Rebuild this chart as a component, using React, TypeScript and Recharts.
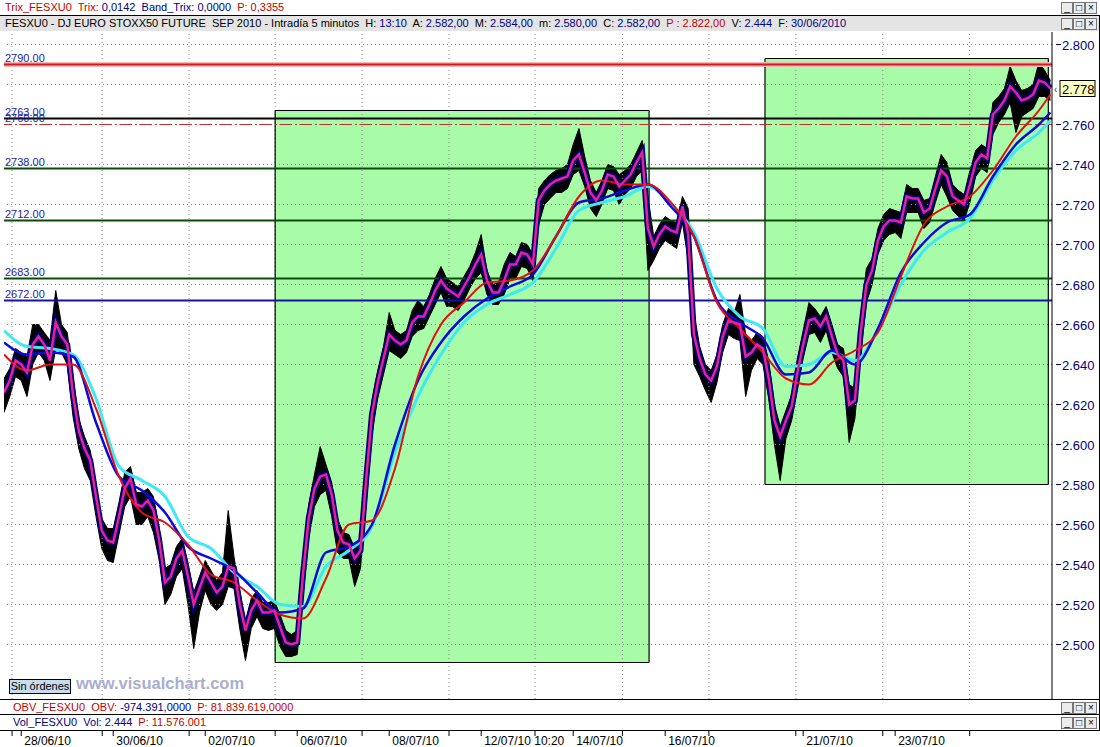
import React from 'react';
import { ComposedChart, Area, Line, XAxis, YAxis, ReferenceLine, ReferenceArea } from 'recharts';

// time axis: trading sessions since 28/06/10, price sampled every 1/8 session
const T0 = -0.375;
const STEP = 0.125;
const T_END = 22.41;

const close = [
  2626, 2632, 2642, 2640, 2636, 2650, 2654, 2650, 2642, 2661,
  2654, 2650, 2625, 2607, 2598, 2592, 2574, 2557, 2552, 2551,
  2564, 2578, 2583, 2570, 2569, 2572, 2567, 2552, 2531, 2534,
  2543, 2547, 2534, 2520, 2528, 2536, 2531, 2526, 2529, 2539,
  2538, 2520, 2507, 2517, 2522, 2516, 2516, 2517, 2509, 2501,
  2500, 2501, 2535, 2563, 2578, 2584, 2585, 2575, 2557, 2551,
  2550, 2543, 2547, 2583, 2615, 2631, 2643, 2655, 2652, 2650,
  2652, 2661, 2664, 2664, 2670, 2677, 2682, 2678, 2676, 2674,
  2679, 2684, 2690, 2695, 2682, 2676, 2676, 2682, 2690, 2690,
  2696, 2695, 2690, 2722, 2727, 2730, 2732, 2733, 2734, 2742,
  2745, 2736, 2726, 2722, 2727, 2735, 2734, 2729, 2732, 2735,
  2741, 2746, 2708, 2699, 2705, 2709, 2707, 2706, 2719, 2705,
  2655, 2643, 2635, 2632, 2639, 2654, 2662, 2661, 2660, 2644,
  2646, 2650, 2648, 2633, 2612, 2604, 2612, 2619, 2636, 2650,
  2662, 2663, 2659, 2664, 2654, 2645, 2642, 2620, 2622, 2656,
  2680, 2687, 2702, 2709, 2712, 2712, 2711, 2724, 2723, 2723,
  2716, 2718, 2728, 2737, 2734, 2724, 2722, 2720, 2730, 2741,
  2745, 2743, 2765, 2768, 2772, 2779, 2776, 2772, 2773, 2775,
  2782, 2781, 2778,
];

const high = [
  2633, 2638, 2648, 2646, 2644, 2660, 2660, 2656, 2652, 2677,
  2660, 2656, 2634, 2613, 2604, 2597, 2580, 2563, 2558, 2558,
  2571, 2586, 2589, 2576, 2576, 2578, 2574, 2558, 2538, 2540,
  2549, 2553, 2541, 2526, 2534, 2542, 2537, 2532, 2536, 2567,
  2544, 2527, 2512, 2523, 2527, 2521, 2521, 2522, 2515, 2507,
  2505, 2507, 2544, 2570, 2585, 2599, 2590, 2581, 2563, 2556,
  2555, 2548, 2553, 2593, 2622, 2637, 2649, 2666, 2657, 2655,
  2657, 2667, 2672, 2669, 2675, 2683, 2689, 2683, 2681, 2679,
  2684, 2689, 2696, 2705, 2687, 2680, 2681, 2690, 2696, 2694,
  2701, 2700, 2695, 2728, 2732, 2735, 2737, 2738, 2740, 2750,
  2758, 2744, 2732, 2726, 2732, 2740, 2739, 2735, 2737, 2740,
  2746, 2752, 2724, 2704, 2710, 2714, 2712, 2711, 2724, 2718,
  2666, 2649, 2640, 2637, 2645, 2660, 2668, 2666, 2675, 2655,
  2652, 2656, 2654, 2642, 2620, 2609, 2617, 2625, 2643, 2657,
  2671, 2668, 2664, 2669, 2660, 2650, 2648, 2630, 2628, 2665,
  2688, 2693, 2708, 2715, 2718, 2717, 2716, 2730, 2728, 2728,
  2722, 2723, 2734, 2745, 2741, 2730, 2727, 2725, 2737, 2747,
  2750, 2748, 2771, 2774, 2778, 2789, 2782, 2777, 2778, 2780,
  2791, 2787, 2782,
];

const low = [
  2616, 2624, 2634, 2632, 2624, 2640, 2646, 2642, 2632, 2648,
  2646, 2640, 2614, 2598, 2588, 2582, 2564, 2548, 2542, 2541,
  2555, 2569, 2574, 2560, 2560, 2564, 2556, 2542, 2520, 2525,
  2534, 2538, 2520, 2498, 2516, 2527, 2520, 2517, 2520, 2529,
  2528, 2508, 2492, 2508, 2514, 2508, 2507, 2508, 2499, 2494,
  2494, 2495, 2524, 2553, 2569, 2575, 2577, 2564, 2546, 2543,
  2543, 2529, 2538, 2570, 2605, 2623, 2635, 2647, 2645, 2643,
  2646, 2654, 2657, 2658, 2664, 2670, 2676, 2669, 2669, 2667,
  2672, 2678, 2683, 2686, 2675, 2670, 2670, 2675, 2683, 2683,
  2689, 2688, 2682, 2710, 2720, 2723, 2726, 2726, 2728, 2735,
  2737, 2729, 2718, 2714, 2720, 2728, 2727, 2720, 2725, 2728,
  2734, 2737, 2687, 2692, 2698, 2702, 2700, 2698, 2711, 2692,
  2640, 2634, 2627, 2621, 2631, 2646, 2655, 2653, 2652, 2624,
  2637, 2643, 2640, 2623, 2600, 2582, 2603, 2612, 2627, 2643,
  2655, 2656, 2651, 2657, 2646, 2638, 2634, 2601, 2613, 2645,
  2671, 2680, 2695, 2702, 2705, 2706, 2703, 2716, 2716, 2716,
  2708, 2711, 2721, 2730, 2724, 2717, 2714, 2712, 2721, 2734,
  2738, 2736, 2755, 2761, 2765, 2771, 2756, 2764, 2766, 2768,
  2774, 2774, 2772,
];

// moving averages, one value every 4 price samples (half a session), last one at the final bar
const MA_EVERY = 4;
const redMa = [
  2645, 2637, 2640, 2640, 2618, 2584, 2566, 2561, 2550, 2535,
  2531, 2522, 2515, 2513, 2533, 2560, 2562, 2588, 2634, 2660,
  2671, 2681, 2682, 2687, 2704, 2724, 2732, 2730, 2730, 2721,
  2704, 2671, 2658, 2646, 2633, 2630, 2641, 2647, 2656, 2684,
  2710, 2719, 2724, 2737, 2754, 2767, 2775,
];
const blueMa = [
  2651, 2645, 2646, 2644, 2611, 2584, 2577, 2566, 2549, 2543,
  2537, 2526, 2516, 2518, 2546, 2549, 2560, 2600, 2632, 2651,
  2664, 2673, 2679, 2685, 2704, 2721, 2723, 2727, 2730, 2719,
  2704, 2672, 2661, 2653, 2635, 2636, 2647, 2640, 2658, 2686,
  2701, 2711, 2715, 2734, 2750, 2760, 2766,
];
const cyanMa = [
  2657, 2649, 2648, 2645, 2623, 2589, 2582, 2574, 2554, 2548,
  2536, 2529, 2520, 2519, 2539, 2547, 2559, 2596, 2624, 2645,
  2661, 2670, 2675, 2681, 2698, 2717, 2721, 2724, 2729, 2720,
  2706, 2678, 2664, 2658, 2639, 2640, 2646, 2642, 2657, 2680,
  2697, 2706, 2713, 2732, 2747, 2756, 2762,
];

// support / resistance levels drawn by hand on the chart
const levelValues = [2790, 2763, 2760, 2738, 2712, 2683, 2672];
const levelNames = ['2790.00', '2763.00', '2760.00', '2738.00', '2712.00', '2683.00', '2672.00'];

// green zones: start session, end session, low price, high price
const zoneStart = [5.52, 16.17];
const zoneEnd = [13.65, 22.33];
const zoneLow = [2491, 2580];
const zoneHigh = [2767, 2793];

const yTicks = [2500, 2520, 2540, 2560, 2580, 2600, 2620, 2640, 2660, 2680, 2700, 2720, 2740, 2760, 2780, 2800];
const dayTicks = [0, 2, 4, 6, 8, 10, 12, 14, 17, 19];
const dayLabels = ['28/06/10', '30/06/10', '02/07/10', '06/07/10', '08/07/10', '12/07/10 10:20', '14/07/10', '16/07/10', '21/07/10', '23/07/10'];
const gridDays = [-0.2, 1.76, 3.65, 5.52, 7.41, 9.3, 11.17, 13.07, 14.95, 16.84, 18.73, 20.62];

const rows: any[] = close.map((c, k) => ({
  t: T0 + k * STEP,
  close: c,
  range: [low[k], high[k]],
  red: null,
  blue: null,
  cyan: null,
}));
const maRow = (j: number) => rows[Math.min(j * MA_EVERY, rows.length - 1)];
redMa.forEach((v, j) => { maRow(j).red = v; });
blueMa.forEach((v, j) => { maRow(j).blue = v; });
cyanMa.forEach((v, j) => { maRow(j).cyan = v; });

const last = close[close.length - 1];

// outline of each zone as four segments so it sits above the dotted grid
const zoneEdges = zoneStart.flatMap((s, i) => {
  const e = zoneEnd[i];
  const lo = zoneLow[i];
  const hi = zoneHigh[i];
  return [
    [{ x: s, y: lo }, { x: e, y: lo }],
    [{ x: s, y: hi }, { x: e, y: hi }],
    [{ x: s, y: lo }, { x: s, y: hi }],
    [{ x: e, y: lo }, { x: e, y: hi }],
  ];
});

const FONT = "'Liberation Sans', Arial, sans-serif";
const NAVY = '#000080';
const RED = '#c00000';

const levelStyle: Record<number, { stroke: string; width: number; dash?: string }> = {
  2790: { stroke: '#c62020', width: 2 },
  2763: { stroke: '#000000', width: 2 },
  2760: { stroke: '#c03030', width: 1, dash: '12 3 2 3' },
  2738: { stroke: '#0b4a0b', width: 2 },
  2712: { stroke: '#0b4a0b', width: 2 },
  2683: { stroke: '#0b4a0b', width: 2 },
  2672: { stroke: '#1414a0', width: 2 },
};

function LevelLabel(props: any) {
  const { viewBox, text } = props;
  if (!viewBox) return null;
  return (
    <text x={viewBox.x + 1} y={viewBox.y - 3} fontSize={11} fontFamily={FONT} fill="#1c1ca8">
      {text}
    </text>
  );
}

function PriceTag(props: any) {
  const { viewBox, price } = props;
  if (!viewBox) return null;
  const x = viewBox.x + viewBox.width;
  const y = viewBox.y;
  return (
    <g>
      <text x={x + 2} y={y + 4} fontSize={10} fontFamily={FONT} fill="#333">‹</text>
      <rect x={x + 8} y={y - 8} width={35} height={16} fill="#ffffc4" stroke="#000" />
      <text x={x + 10} y={y + 5} fontSize={13} fontFamily={FONT} fill="#000">
        {price.toLocaleString('de-DE')}
      </text>
    </g>
  );
}

function PriceTick(props: any) {
  const { x, y, payload } = props;
  // the tick under the last-price tag is covered by it
  if (Math.abs(payload.value - last) < 10) return null;
  return (
    <g>
      <line x1={x + 4} y1={y} x2={x + 9} y2={y} stroke={NAVY} />
      <text x={x + 10} y={y + 5} fontSize={13} fontFamily={FONT} fill={NAVY}>
        {payload.value.toLocaleString('de-DE')}
      </text>
    </g>
  );
}

function DateTick(props: any) {
  const { x, y, payload } = props;
  const i = dayTicks.indexOf(payload.value);
  return (
    <g>
      <line x1={x} y1={y + 31} x2={x} y2={y + 37} stroke="#000" />
      {i >= 0 && (
        <text x={x + 3} y={y + 46} fontSize={12} fontFamily={FONT} fill="#000">
          {dayLabels[i]}
        </text>
      )}
    </g>
  );
}

function WinButtons({ top }: { top: number }) {
  const box: React.CSSProperties = {
    position: 'absolute', top, width: 10, height: 10, border: '1px solid #777',
    background: '#ececec', fontSize: 10, lineHeight: '10px', textAlign: 'center', fontFamily: FONT,
  };
  return (
    <>
      <div style={{ ...box, left: 1061 }}>_</div>
      <div style={{ ...box, left: 1073 }}>□</div>
      <div style={{ ...box, left: 1085 }}>×</div>
    </>
  );
}

export default function App() {
  const row: React.CSSProperties = {
    position: 'absolute', left: 0, width: 1100, height: 15, background: '#fff',
    fontFamily: FONT, fontSize: 11, lineHeight: '15px', whiteSpace: 'pre',
  };
  return (
    <div style={{ position: 'fixed', left: 0, top: 0, width: 1100, height: 747, background: '#fff', overflow: 'hidden' }}>
      <div style={{ ...row, top: 0 }}>
        <span style={{ marginLeft: 5, color: RED }}>Trix_FESXU0  Trix: </span>
        <span style={{ color: NAVY }}>0,0142  Band_Trix: 0,0000  </span>
        <span style={{ color: RED }}>P: 0,3355</span>
      </div>
      <WinButtons top={2} />
      <div style={{ position: 'absolute', left: 0, top: 15, width: 1100, height: 1, background: '#000' }} />
      <div style={{ ...row, top: 16, background: '#e4e4e4' }}>
        <span style={{ marginLeft: 5, color: '#000' }}>FESXU0 - DJ EURO STOXX50 FUTURE  SEP 2010 - Intradía 5 minutos  H: </span>
        <span style={{ color: NAVY }}>13:10</span>
        <span style={{ color: '#000' }}>  A: </span><span style={{ color: NAVY }}>2.582,00</span>
        <span style={{ color: '#000' }}>  M: </span><span style={{ color: NAVY }}>2.584,00</span>
        <span style={{ color: '#000' }}>  m: </span><span style={{ color: NAVY }}>2.580,00</span>
        <span style={{ color: '#000' }}>  C: </span><span style={{ color: NAVY }}>2.582,00</span>
        <span style={{ color: RED }}>  P : 2.822,00</span>
        <span style={{ color: '#000' }}>  V: </span><span style={{ color: NAVY }}>2.444</span>
        <span style={{ color: '#000' }}>  F: </span><span style={{ color: NAVY }}>30/06/2010</span>
      </div>
      <WinButtons top={18} />

      <div style={{ position: 'absolute', left: 0, top: 32 }}>
        <ComposedChart width={1100} height={715} data={rows} margin={{ top: 0, right: 0, left: 4, bottom: 0 }}>
          <XAxis
            type="number"
            dataKey="t"
            domain={[T0, T_END]}
            allowDataOverflow
            ticks={[...dayTicks, ...gridDays]}
            interval={0}
            tick={<DateTick />}
            tickLine={false}
            axisLine={false}
            tickSize={0}
            tickMargin={0}
            height={48}
          />
          <YAxis
            orientation="right"
            domain={[2472.75, 2806.25]}
            allowDataOverflow
            ticks={yTicks}
            interval={0}
            tick={<PriceTick />}
            tickLine={false}
            tickSize={0}
            tickMargin={0}
            axisLine={{ stroke: '#000', strokeWidth: 1 }}
            width={48}
          />
          {zoneStart.map((s, i) => (
            <ReferenceArea
              key={`z${i}`}
              x1={s}
              x2={zoneEnd[i]}
              y1={zoneLow[i]}
              y2={zoneHigh[i]}
              fill="#a8fca8"
              fillOpacity={1}
              stroke="none"
              ifOverflow="visible"
            />
          ))}
          {yTicks.map((v) => (
            <ReferenceLine key={`h${v}`} y={v} stroke="#8a8a8a" strokeDasharray="1 3" />
          ))}
          {gridDays.map((v) => (
            <ReferenceLine key={`v${v}`} x={v} stroke="#8a8a8a" strokeDasharray="1 3" />
          ))}
          {zoneEdges.map((seg, i) => (
            <ReferenceLine key={`e${i}`} segment={seg} stroke="#000" strokeWidth={1.2} ifOverflow="visible" />
          ))}
          <ReferenceLine y={2790} stroke="#f3b8b8" strokeWidth={5} />
          {levelValues.map((v, i) => (
            <ReferenceLine
              key={`l${v}`}
              y={v}
              stroke={levelStyle[v].stroke}
              strokeWidth={levelStyle[v].width}
              strokeDasharray={levelStyle[v].dash}
              label={<LevelLabel text={levelNames[i]} />}
            />
          ))}
          <Area
            type="linear"
            dataKey="range"
            stroke="#000"
            strokeWidth={1}
            fill="#000"
            fillOpacity={1}
            isAnimationActive={false}
            dot={false}
            activeDot={false}
          />
          <Line type="linear" dataKey="close" stroke={NAVY} strokeWidth={6} dot={false} isAnimationActive={false} />
          <Line type="monotone" dataKey="cyan" stroke="#3ee8f4" strokeWidth={3} dot={false} connectNulls isAnimationActive={false} />
          <Line type="monotone" dataKey="blue" stroke="#0a0ae0" strokeWidth={2.5} dot={false} connectNulls isAnimationActive={false} />
          <Line type="monotone" dataKey="red" stroke="#e01010" strokeWidth={2} dot={false} connectNulls isAnimationActive={false} />
          <Line type="linear" dataKey="close" stroke="#e8228a" strokeWidth={2.5} dot={false} isAnimationActive={false} />
          <ReferenceLine y={last} stroke="none" label={<PriceTag price={last} />} />
        </ComposedChart>
      </div>

      <div style={{ position: 'absolute', left: 9, top: 679, width: 60, height: 13, border: '1px solid #000', background: '#c8dcf0', fontFamily: FONT, fontSize: 11, lineHeight: '13px', textAlign: 'center' }}>
        Sin órdenes
      </div>
      <div style={{ position: 'absolute', left: 76, top: 674, fontFamily: FONT, fontSize: 16.5, fontWeight: 'bold', color: '#a9aed0' }}>
        www.visualchart.com
      </div>

      <div style={{ ...row, top: 699, borderTop: '1px solid #000', width: 1099 }}>
        <span style={{ marginLeft: 13, color: RED }}>OBV_FESXU0  OBV: </span>
        <span style={{ color: NAVY }}>-974.391,0000  </span>
        <span style={{ color: RED }}>P: 81.839.619,0000</span>
      </div>
      <WinButtons top={702} />
      <div style={{ ...row, top: 714, borderTop: '1px solid #000', borderBottom: '1px solid #000', width: 1099 }}>
        <span style={{ marginLeft: 13, color: NAVY }}>Vol_FESXU0  Vol: 2.444  </span>
        <span style={{ color: RED }}>P: 11.576.001</span>
      </div>
      <WinButtons top={717} />
      <div style={{ position: 'absolute', left: 1099, top: 15, width: 1, height: 716, background: '#000' }} />
    </div>
  );
}
